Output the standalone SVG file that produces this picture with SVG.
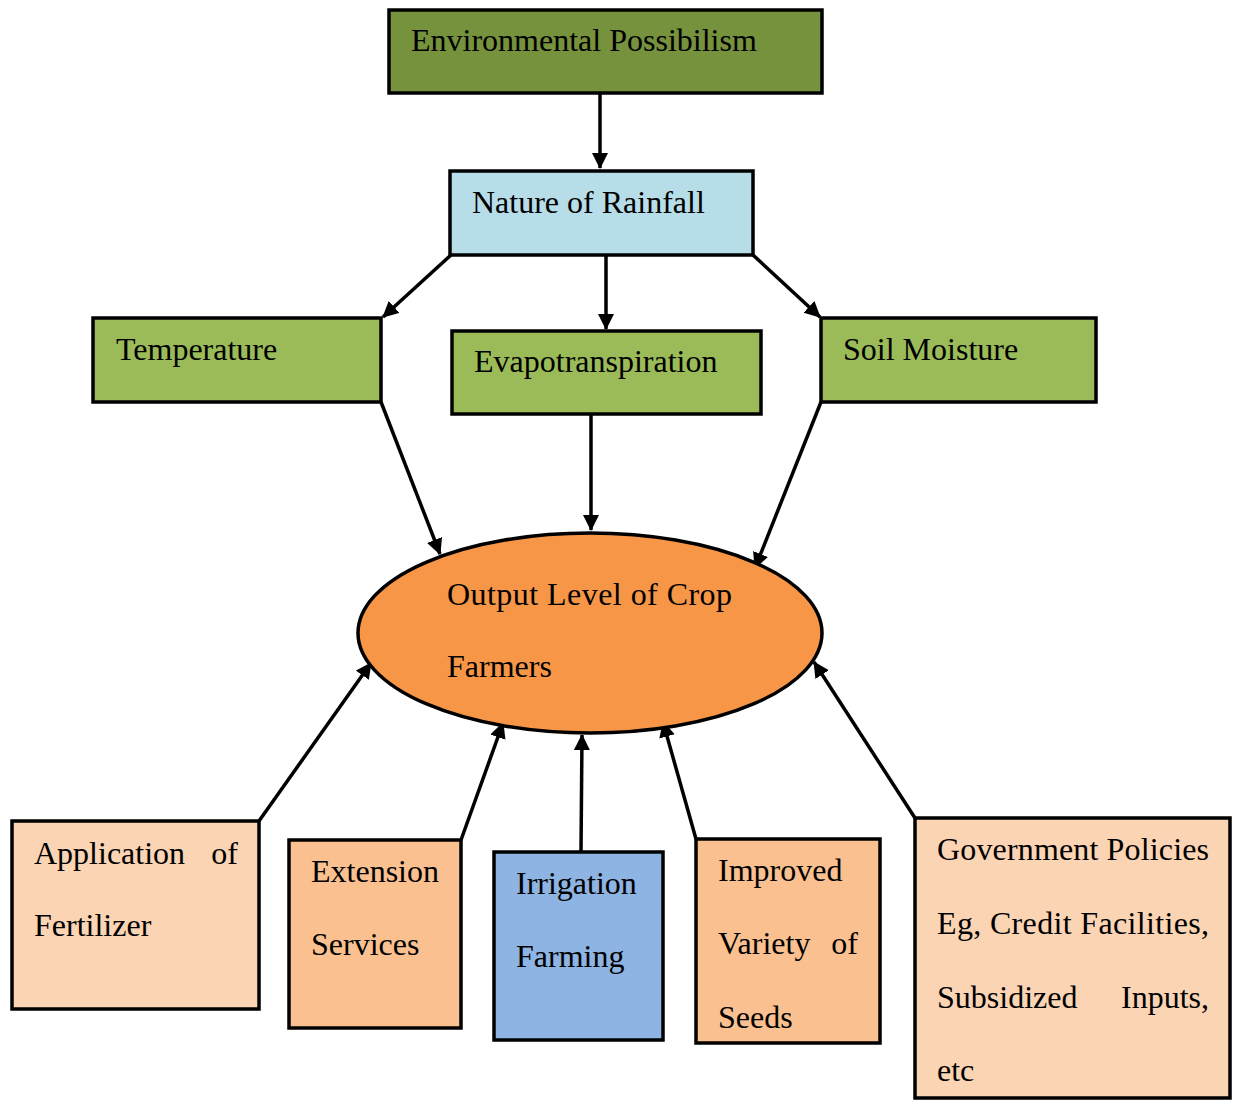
<svg xmlns="http://www.w3.org/2000/svg" width="1235" height="1100" viewBox="0 0 1235 1100">
<style>
.box{stroke:#000;stroke-width:3.5}
.t{font-family:"Liberation Serif","Times New Roman",serif;font-size:32px;fill:#000}
.c{stroke:#000;stroke-width:3.5;fill:none}
</style>
<defs>
<marker id="ah" markerUnits="userSpaceOnUse" markerWidth="18" markerHeight="18" refX="15" refY="8" orient="auto">
<path d="M0,0 L16,8 L0,16 Z" fill="#000"/>
</marker>
</defs>
<rect width="1235" height="1100" fill="#fff"/>
<g id="connectors">
<line class="c" x1="600" y1="93" x2="600" y2="168" marker-end="url(#ah)"/>
<line class="c" x1="451" y1="255" x2="383" y2="317" marker-end="url(#ah)"/>
<line class="c" x1="606" y1="255" x2="606" y2="329" marker-end="url(#ah)"/>
<line class="c" x1="753" y1="255" x2="820" y2="317" marker-end="url(#ah)"/>
<line class="c" x1="381" y1="402" x2="440" y2="554" marker-end="url(#ah)"/>
<line class="c" x1="591" y1="414" x2="591" y2="530" marker-end="url(#ah)"/>
<line class="c" x1="821" y1="402" x2="755" y2="568" marker-end="url(#ah)"/>
<line class="c" x1="259" y1="821" x2="371" y2="663" marker-end="url(#ah)"/>
<line class="c" x1="461" y1="840" x2="503" y2="723" marker-end="url(#ah)"/>
<line class="c" x1="581" y1="852" x2="582" y2="735" marker-end="url(#ah)"/>
<line class="c" x1="696" y1="839" x2="663" y2="722" marker-end="url(#ah)"/>
<line class="c" x1="915" y1="818" x2="814" y2="662" marker-end="url(#ah)"/>
</g>
<g id="env-possibilism">
<rect class="box" x="389" y="10" width="433" height="83" fill="#76923C"/>
<text class="t" x="411" y="51">Environmental Possibilism</text>
</g>
<g id="nature-rainfall">
<rect class="box" x="450" y="171" width="303" height="84" fill="#B7DDE8"/>
<text class="t" x="472" y="213">Nature of Rainfall</text>
</g>
<g id="temperature">
<rect class="box" x="93" y="318" width="288" height="84" fill="#9BBB59"/>
<text class="t" x="116" y="360">Temperature</text>
</g>
<g id="evapotranspiration">
<rect class="box" x="452" y="331" width="309" height="83" fill="#9BBB59"/>
<text class="t" x="474" y="372">Evapotranspiration</text>
</g>
<g id="soil-moisture">
<rect class="box" x="821" y="318" width="275" height="84" fill="#9BBB59"/>
<text class="t" x="843" y="360">Soil Moisture</text>
</g>
<g id="output">
<ellipse class="box" cx="590" cy="633" rx="232" ry="100" fill="#F79646"/>
<text class="t" x="447" y="605" textLength="285" lengthAdjust="spacing">Output Level of Crop</text>
<text class="t" x="447" y="677">Farmers</text>
</g>
<g id="fertilizer">
<rect class="box" x="12" y="821" width="247" height="188" fill="#FBD4B4"/>
<text class="t" x="34" y="864">Application</text>
<text class="t" x="238" y="864" text-anchor="end">of</text>
<text class="t" x="34" y="936">Fertilizer</text>
</g>
<g id="extension">
<rect class="box" x="289" y="840" width="172" height="188" fill="#FAC090"/>
<text class="t" x="311" y="882">Extension</text>
<text class="t" x="311" y="955">Services</text>
</g>
<g id="irrigation">
<rect class="box" x="494" y="852" width="169" height="188" fill="#8EB4E3"/>
<text class="t" x="516" y="894">Irrigation</text>
<text class="t" x="516" y="967">Farming</text>
</g>
<g id="seeds">
<rect class="box" x="696" y="839" width="184" height="204" fill="#FAC090"/>
<text class="t" x="718" y="881">Improved</text>
<text class="t" x="718" y="954">Variety</text>
<text class="t" x="858" y="954" text-anchor="end">of</text>
<text class="t" x="718" y="1028">Seeds</text>
</g>
<g id="government">
<rect class="box" x="915" y="818" width="315" height="280" fill="#FBD4B4"/>
<text class="t" x="937" y="860" textLength="272" lengthAdjust="spacing">Government Policies</text>
<text class="t" x="937" y="934" textLength="272" lengthAdjust="spacing">Eg, Credit Facilities,</text>
<text class="t" x="937" y="1008">Subsidized</text>
<text class="t" x="1209" y="1008" text-anchor="end">Inputs,</text>
<text class="t" x="937" y="1081">etc</text>
</g>
</svg>
